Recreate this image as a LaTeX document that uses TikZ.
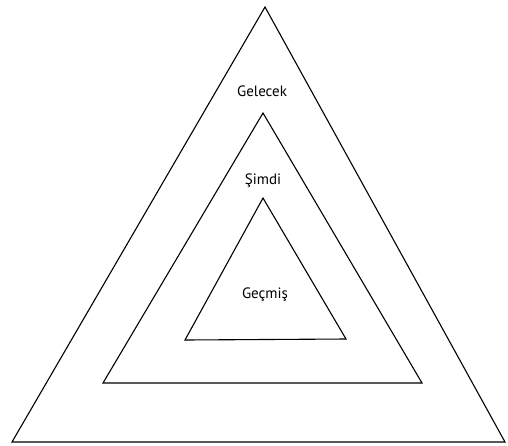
\documentclass[tikz,border=0pt]{standalone}
\usepackage{fontspec}
\setmainfont{PT Sans}
\begin{document}
\begin{tikzpicture}
[x=1pt,y=-1pt,every node/.style={font=\fontsize{15}{17}\selectfont},edge/.style={line width=1.1pt,line join=miter}]
\useasboundingbox (0,0) rectangle (508,445);
% outer, middle and inner triangle
\coordinate (o1) at (265,7);
\coordinate (o2) at (12,442);
\coordinate (o3) at (505,442);
\coordinate (m1) at (263,113);
\coordinate (m2) at (103,383);
\coordinate (m3) at (422,383);
\coordinate (i1) at (263,198);
\coordinate (i2) at (185,340);
\coordinate (i3) at (346,339);
\draw[edge] (o1) -- (o2) -- (o3) -- cycle;
\draw[edge] (m1) -- (m2) -- (m3) -- cycle;
\draw[edge] (i1) -- (i2) -- (i3) -- cycle;
\node (future) at (262,91) {Gelecek};
\node (present) at (263,181) {Şimdi};
\node (past) at (265,295) {Geçmiş};
\end{tikzpicture}
\end{document}
